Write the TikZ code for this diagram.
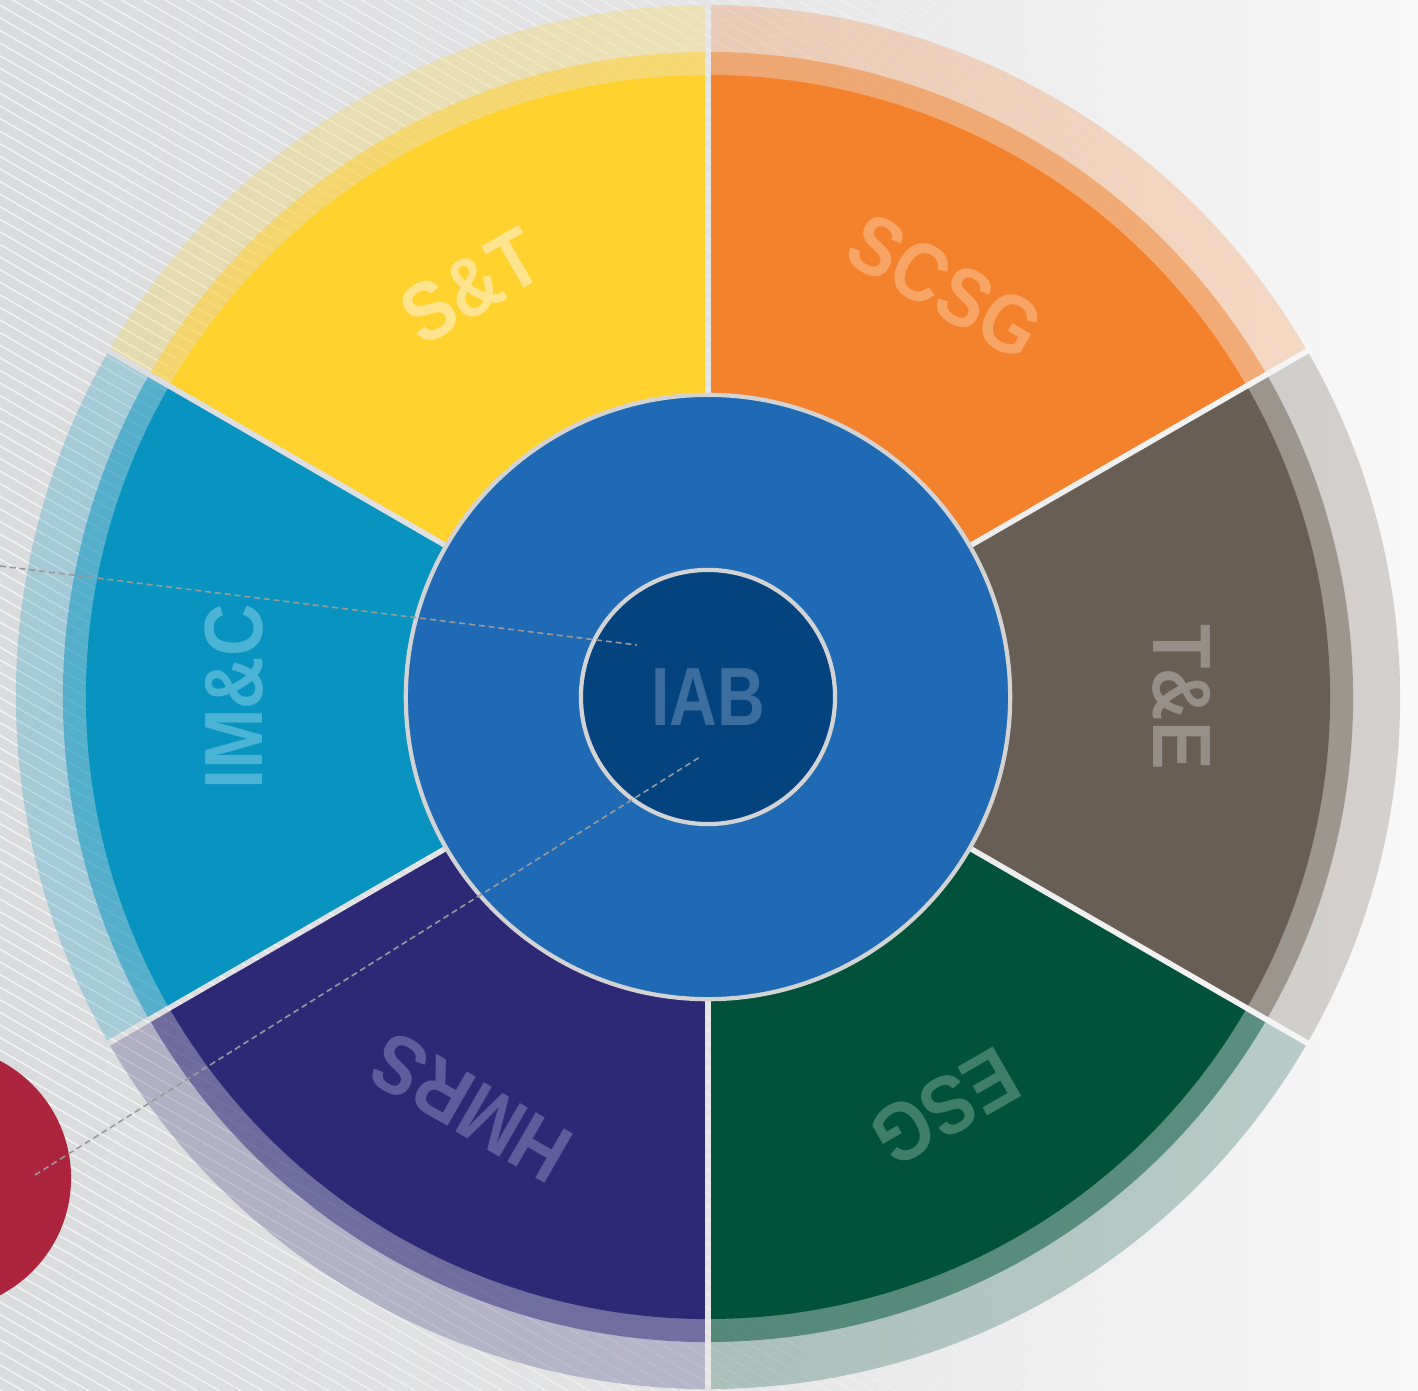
\documentclass[tikz,border=0pt]{standalone}
\usepackage{fontspec}
\setmainfont{Liberation Sans}
\usetikzlibrary{patterns.meta,fadings}

\definecolor{snt}{HTML}{FFD22E}
\definecolor{snttxt}{HTML}{FFE48F}
\definecolor{scsg}{HTML}{F4822D}
\definecolor{scsgtxt}{HTML}{F7A467}
\definecolor{tne}{HTML}{685E53}
\definecolor{tnetxt}{HTML}{958F87}
\definecolor{esg}{HTML}{00523A}
\definecolor{esgtxt}{HTML}{3F7E69}
\definecolor{hmrs}{HTML}{2E2977}
\definecolor{hmrstxt}{HTML}{5F5C9D}
\definecolor{imc}{HTML}{0794C0}
\definecolor{imctxt}{HTML}{4BB3D5}
\definecolor{ringblue}{HTML}{1F6AB4}
\definecolor{iabblue}{HTML}{03437F}
\definecolor{iabtxt}{HTML}{3B6E9E}
\definecolor{ringedge}{HTML}{D3D3D3}
\definecolor{unitred}{HTML}{AD253C}
\definecolor{linkgray}{HTML}{9A9A9A}
\definecolor{bgleft}{HTML}{DADBDD}
\definecolor{bgmid}{HTML}{E5E5E6}
\definecolor{bgright}{HTML}{F8F8F8}

\tikzfading[name=hatchfade, left color=transparent!25, right color=transparent!100]

\begin{document}
\begin{tikzpicture}[x=0.01cm, y=0.01cm,
    seclabel/.style={font=\fontsize{23.5}{23.5}\selectfont\bfseries, inner sep=0},
    ring/.style={circle, draw=ringedge, line width=1.2pt, inner sep=0},
    link/.style={draw=linkgray, line width=0.45pt, dash pattern=on 1.7pt off 1.1pt}
]
\useasboundingbox (-708,-693) rectangle (710,697);

% background
\shade[left color=bgleft, right color=bgright, middle color=bgmid] (-708,-693) rectangle (710,697);
\fill[pattern={Lines[angle=-30, distance=3.1pt, line width=0.35pt]}, pattern color=white, path fading=hatchfade] (-708,-693) rectangle (710,697);

% the six sectors
\foreach \a/\col/\lbl in {30/scsg/SCSG, 90/snt/S\&T, 150/imc/IM\&C, 210/hmrs/HMRS, 270/esg/ESG, 330/tne/T\&E} {
  \begin{scope}[rotate=\a]
    \clip (5.2,3) -- (2000,3) -- (2000,2000) -- (1002.6,1730.5) -- cycle;
    \fill[\col, opacity=.25] (0,0) circle[radius=692];
    \fill[\col, opacity=.5] (0,0) circle[radius=645];
    \fill[\col] (0,0) circle[radius=622];
  \end{scope}
  \node[seclabel, text=\col txt, rotate=\a-60, xscale=.88] (\col) at (\a+30:474) {\lbl};
}

\node[ring, fill=ringblue, minimum size=6.04cm] (ring) at (0,0) {};
\node[ring, fill=iabblue, minimum size=2.54cm] (iab) at (0,0) {};
\node[seclabel, text=iabtxt, xscale=.8] (iabname) at (iab) {IAB};

\node[circle, fill=unitred, minimum size=2.64cm, inner sep=0] (unit) at (-769,-481) {};

\coordinate (imcfar) at (-708,131);
\coordinate (iabhit) at (-71,52);
\coordinate (unitdot) at (-673,-478);
\coordinate (iabfoot) at (-8,-60);
\draw[link] (imcfar) -- (iabhit);
\draw[link] (unitdot) -- (iabfoot);
\end{tikzpicture}
\end{document}
